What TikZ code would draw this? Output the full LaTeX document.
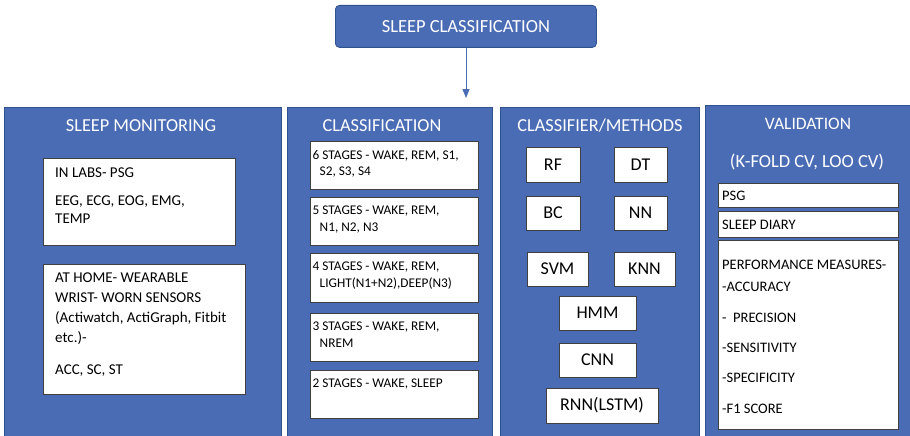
\documentclass[tikz,border=0pt]{standalone}
\usepackage{fontspec}
\setmainfont{Carlito}
\usetikzlibrary{arrows.meta}
\definecolor{panelblue}{HTML}{4A6CB4}
\definecolor{edgeblue}{HTML}{2F528F}
\tikzset{
  panel/.style={fill=panelblue, draw=edgeblue, line width=0.8pt, anchor=north west, inner sep=0pt},
  wbox/.style={fill=white, draw=black!75, line width=0.7pt, anchor=north west, inner sep=0pt},
  head/.style={text=white, font=\fontsize{18.3}{21}\selectfont, inner sep=0pt},
  body/.style={anchor=north west, align=left, inner sep=0pt},
  meth/.style={fill=white, draw=black!75, line width=0.7pt, inner sep=0pt, font=\fontsize{18}{21}\selectfont},
}
\begin{document}
\begin{tikzpicture}[x=1pt,y=-1pt]
\useasboundingbox (0,0) rectangle (910,436);

% top node and arrow
\node[fill=panelblue, draw=edgeblue, line width=0.8pt, rounded corners=4pt,
      minimum width=261, minimum height=42, anchor=north west, inner sep=0pt,
      text=white, font=\fontsize{18.5}{21}\selectfont] (root) at (335,5) {SLEEP CLASSIFICATION};
\coordinate (tip) at (466,98);
\draw[panelblue, line width=0.9pt, -{Triangle[width=7pt,length=9pt]}] (root.south -| tip) -- (tip);

% panels
\node[panel, minimum width=277, minimum height=335] (p1) at (4,107) {};
\node[panel, minimum width=205, minimum height=335] (p2) at (287,107) {};
\node[panel, minimum width=199, minimum height=335] (p3) at (500,107) {};
\node[panel, minimum width=210, minimum height=337] (p4) at (705,105) {};

% panel headings
\node[head] (h1) at (141,126) {SLEEP MONITORING};
\node[head] (h2) at (382,126) {CLASSIFICATION};
\node[head] (h3) at (600,126) {CLASSIFIER/METHODS};
\node[head, font=\fontsize{17.5}{21}\selectfont] (h4a) at (808,124) {VALIDATION};
\node[head, font=\fontsize{18.5}{21}\selectfont] (h4b) at (807,162) {(K-FOLD CV, LOO CV)};

% sleep monitoring
\node[wbox, minimum width=192, minimum height=87] (lab) at (43,158) {};
\node[body, font=\fontsize{15}{19}\selectfont] (labt) at ([shift={(12pt,-10pt)}]lab.north west)
  {IN LABS- PSG\\[9pt]EEG, ECG, EOG, EMG,\\[-1pt]TEMP};
\node[wbox, minimum width=202, minimum height=130] (home) at (43,264) {};
\node[body, font=\fontsize{15}{20}\selectfont] (homet) at ([shift={(12pt,-9pt)}]home.north west)
  {AT HOME- WEARABLE\\WRIST- WORN SENSORS\\(Actiwatch, ActiGraph, Fitbit\\etc.)-\\[12pt]ACC, SC, ST};

% classification stages
\tikzset{stage/.style={body, font=\fontsize{13.3}{16.5}\selectfont}}
\node[wbox, minimum width=168, minimum height=48] (s6) at (310,141) {};
\node[stage] (s6t) at ([shift={(2.5pt,-9pt)}]s6.north west) {6 STAGES - WAKE, REM, S1,\\\hspace{7pt}S2, S3, S4};
\node[wbox, minimum width=168, minimum height=48] (s5) at (310,197) {};
\node[stage] (s5t) at ([shift={(2.5pt,-9pt)}]s5.north west) {5 STAGES - WAKE, REM,\\\hspace{7pt}N1, N2, N3};
\node[wbox, minimum width=168, minimum height=49] (s4) at (310,253) {};
\node[stage] (s4t) at ([shift={(2.5pt,-9pt)}]s4.north west) {4 STAGES - WAKE, REM,\\\hspace{7pt}LIGHT(N1+N2),DEEP(N3)};
\node[wbox, minimum width=168, minimum height=48] (s3) at (310,313) {};
\node[stage] (s3t) at ([shift={(2.5pt,-9pt)}]s3.north west) {3 STAGES - WAKE, REM,\\\hspace{7pt}NREM};
\node[wbox, minimum width=168, minimum height=48] (s2) at (310,370) {};
\node[stage] (s2t) at ([shift={(2.5pt,-9pt)}]s2.north west) {2 STAGES - WAKE, SLEEP};

% classifiers
\node[meth, minimum width=54, minimum height=35] (rf) at (553,164.5) {RF};
\node[meth, minimum width=53, minimum height=35] (dt) at (640.5,164.5) {DT};
\node[meth, minimum width=54, minimum height=34] (bc) at (553,213) {BC};
\node[meth, minimum width=53, minimum height=34] (nn) at (640.5,213) {NN};
\node[meth, minimum width=61, minimum height=34] (svm) at (557.5,269) {SVM};
\node[meth, minimum width=61, minimum height=34] (knn) at (644.5,269) {KNN};
\node[meth, minimum width=77, minimum height=34] (hmm) at (597.5,313) {HMM};
\node[meth, minimum width=77, minimum height=34] (cnn) at (597.5,360) {CNN};
\node[meth, minimum width=112, minimum height=35] (rnn) at (602,405.5) {RNN(LSTM)};

% validation
\tikzset{val/.style={body, font=\fontsize{14.5}{17}\selectfont}}
\node[wbox, minimum width=180, minimum height=24] (psg) at (718,183) {};
\node[val, anchor=west] (psgt) at ([shift={(4pt,0pt)}]psg.west) {PSG};
\node[wbox, minimum width=180, minimum height=26] (diary) at (718,211) {};
\node[val, anchor=west] (diaryt) at ([shift={(4pt,0pt)}]diary.west) {SLEEP DIARY};
\node[wbox, minimum width=180, minimum height=189] (perf) at (718,240) {};
\node[val, font=\fontsize{14.5}{30.3}\selectfont] (perft) at ([shift={(4pt,-20pt)}]perf.north west)
  {PERFORMANCE MEASURES-\\[-8pt]-ACCURACY\\-\ \ PRECISION\\-SENSITIVITY\\-SPECIFICITY\\-F1 SCORE};
\end{tikzpicture}
\end{document}
